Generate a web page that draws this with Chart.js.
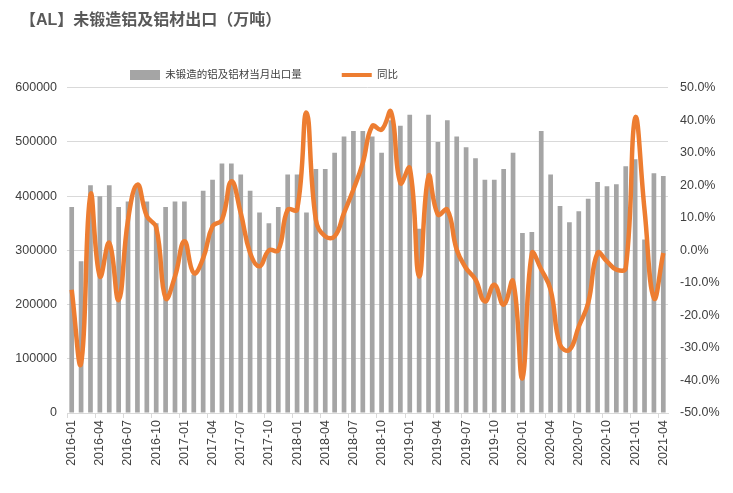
<!DOCTYPE html>
<html>
<head>
<meta charset="utf-8">
<script src="https://cdn.jsdelivr.net/npm/chart.js@4.4.0/dist/chart.umd.min.js"></script>
<style>
  body { margin: 0; background: #fff; }
  #wrap { width: 733px; height: 493px; }
</style>
</head>
<body>
<div id="wrap"><canvas id="AlChart"></canvas></div>
<script>
// 月份（2016-01 ~ 2021-04）
const months = [
  '2016-01','2016-02','2016-03','2016-04','2016-05','2016-06','2016-07','2016-08','2016-09','2016-10','2016-11','2016-12',
  '2017-01','2017-02','2017-03','2017-04','2017-05','2017-06','2017-07','2017-08','2017-09','2017-10','2017-11','2017-12',
  '2018-01','2018-02','2018-03','2018-04','2018-05','2018-06','2018-07','2018-08','2018-09','2018-10','2018-11','2018-12',
  '2019-01','2019-02','2019-03','2019-04','2019-05','2019-06','2019-07','2019-08','2019-09','2019-10','2019-11','2019-12',
  '2020-01','2020-02','2020-03','2020-04','2020-05','2020-06','2020-07','2020-08','2020-09','2020-10','2020-11','2020-12',
  '2021-01','2021-02','2021-03','2021-04'
];

// 未锻造的铝及铝材当月出口量（吨）
const exportVolume = [
  380000, 280000, 420000, 400000, 420000, 380000, 390000, 420000, 390000, 350000, 380000, 390000,
  390000, 255000, 410000, 430000, 460000, 460000, 440000, 410000, 370000, 350000, 380000, 440000,
  440000, 370000, 450000, 450000, 480000, 510000, 520000, 520000, 510000, 480000, 540000, 530000,
  550000, 340000, 550000, 500000, 540000, 510000, 490000, 470000, 430000, 430000, 450000, 480000,
  332000, 334000, 520000, 440000, 382000, 352000, 372000, 395000, 426000, 418000, 422000, 455000,
  468000, 320000, 442000, 437000
];

// 同比（%）
const yoyPct = [
  -12.1, -34.7, 17.1, -8.0, 2.3, -15.2, 9.4, 20.2, 10.5, 7.0, -14.7, -8.0,
  2.8, -7.0, -2.4, 7.4, 9.4, 21.2, 11.5, -0.8, -4.9, 0.0, 0.0, 12.5,
  12.5, 42.3, 9.4, 4.3, 4.3, 11.5, 18.7, 26.9, 38.2, 37.1, 42.6, 20.7,
  25.3, -8.0, 22.8, 11.0, 12.5, 0.2, -5.5, -9.0, -15.7, -10.6, -16.7, -9.5,
  -39.3, -1.0, -5.9, -12.1, -29.0, -30.6, -23.4, -16.2, -0.8, -3.4, -5.9, -5.4,
  40.7, 12.5, -14.7, -0.8
];

const leftTicks = [0, 100000, 200000, 300000, 400000, 500000, 600000];
const rightTicks = [-50, -40, -30, -20, -10, 0, 10, 20, 30, 40, 50];

const FONT = "'Liberation Sans', 'Noto Sans CJK SC', sans-serif";
const GRID = '#D9D9D9';
const TEXT = '#404040';

// 把标题和图例挪到原图的位置
const boxShift = {
  id: 'boxShift',
  afterLayout(chart) {
    chart.titleBlock.left = 20;
    chart.titleBlock.top += 3;
    chart.titleBlock.bottom += 3;
    chart.legend.left = 90;
    chart.legend.top += 2.5;
    chart.legend.bottom += 2.5;
  }
};

const ctx = document.getElementById('AlChart').getContext('2d');

const AlChart = new Chart(ctx, {
  type: 'bar',
  data: {
    labels: months,
    datasets: [
      {
        type: 'bar',
        label: '未锻造的铝及铝材当月出口量',
        data: exportVolume,
        backgroundColor: '#A5A5A5',
        barPercentage: 0.5,
        categoryPercentage: 1.0,
        yAxisID: 'y',
        order: 1
      },
      {
        type: 'line',
        label: '同比',
        data: yoyPct,
        borderColor: '#ED7D31',
        backgroundColor: '#ED7D31',
        borderWidth: 4.5,
        pointRadius: 0,
        tension: 0.45,
        yAxisID: 'y1',
        order: 0
      }
    ]
  },
  options: {
    responsive: true,
    maintainAspectRatio: false,
    animation: false,
    layout: { padding: 0 },
    plugins: {
      title: {
        display: true,
        text: '【AL】未锻造铝及铝材出口（万吨）',
        align: 'start',
        color: '#595959',
        font: { family: FONT, size: 16, weight: 'bold' },
        padding: { top: 8, bottom: 0 }
      },
      legend: {
        display: true,
        align: 'start',
        labels: {
          color: TEXT,
          font: { family: FONT, size: 10.5 },
          padding: 40,
          usePointStyle: true,
          pointStyleWidth: 30,
          boxHeight: 10,
          generateLabels: function(chart) {
            return [
              { text: '未锻造的铝及铝材当月出口量', fillStyle: '#A5A5A5', strokeStyle: '#A5A5A5', lineWidth: 0, pointStyle: 'rect', datasetIndex: 0, fontColor: TEXT },
              { text: '同比', fillStyle: '#ED7D31', strokeStyle: '#ED7D31', lineWidth: 4, pointStyle: 'line', datasetIndex: 1, fontColor: TEXT }
            ];
          }
        }
      },
      tooltip: { enabled: false }
    },
    scales: {
      x: {
        offset: true,
        afterFit: function(scale) { scale.height = 80; },
        border: { display: true, color: GRID },
        grid: {
          offset: true,
          drawOnChartArea: false,
          tickLength: 5,
          color: function(c) { return c.index % 3 === 0 ? GRID : 'rgba(0,0,0,0)'; }
        },
        ticks: {
          autoSkip: false,
          maxRotation: 90,
          minRotation: 90,
          padding: 2,
          color: TEXT,
          font: { family: FONT, size: 12.5 },
          callback: function(value, index) { return index % 3 === 0 ? months[index] : ''; }
        }
      },
      y: {
        position: 'left',
        min: 0,
        max: 600000,
        afterFit: function(scale) { scale.width = 67; },
        afterBuildTicks: function(scale) { scale.ticks = leftTicks.map(v => ({ value: v })); },
        border: { display: false },
        grid: { color: GRID, drawTicks: false },
        ticks: {
          padding: 10,
          color: TEXT,
          font: { family: FONT, size: 12.5 },
          callback: function(v) { return String(v); }
        }
      },
      y1: {
        position: 'right',
        min: -50,
        max: 50,
        afterFit: function(scale) { scale.width = 65; },
        afterBuildTicks: function(scale) { scale.ticks = rightTicks.map(v => ({ value: v })); },
        border: { display: false },
        grid: { drawOnChartArea: false, drawTicks: false },
        ticks: {
          padding: 12,
          color: TEXT,
          font: { family: FONT, size: 12.5 },
          callback: function(v) { return v.toFixed(1) + '%'; }
        }
      }
    }
  },
  plugins: [boxShift]
});
</script>
</body>
</html>
